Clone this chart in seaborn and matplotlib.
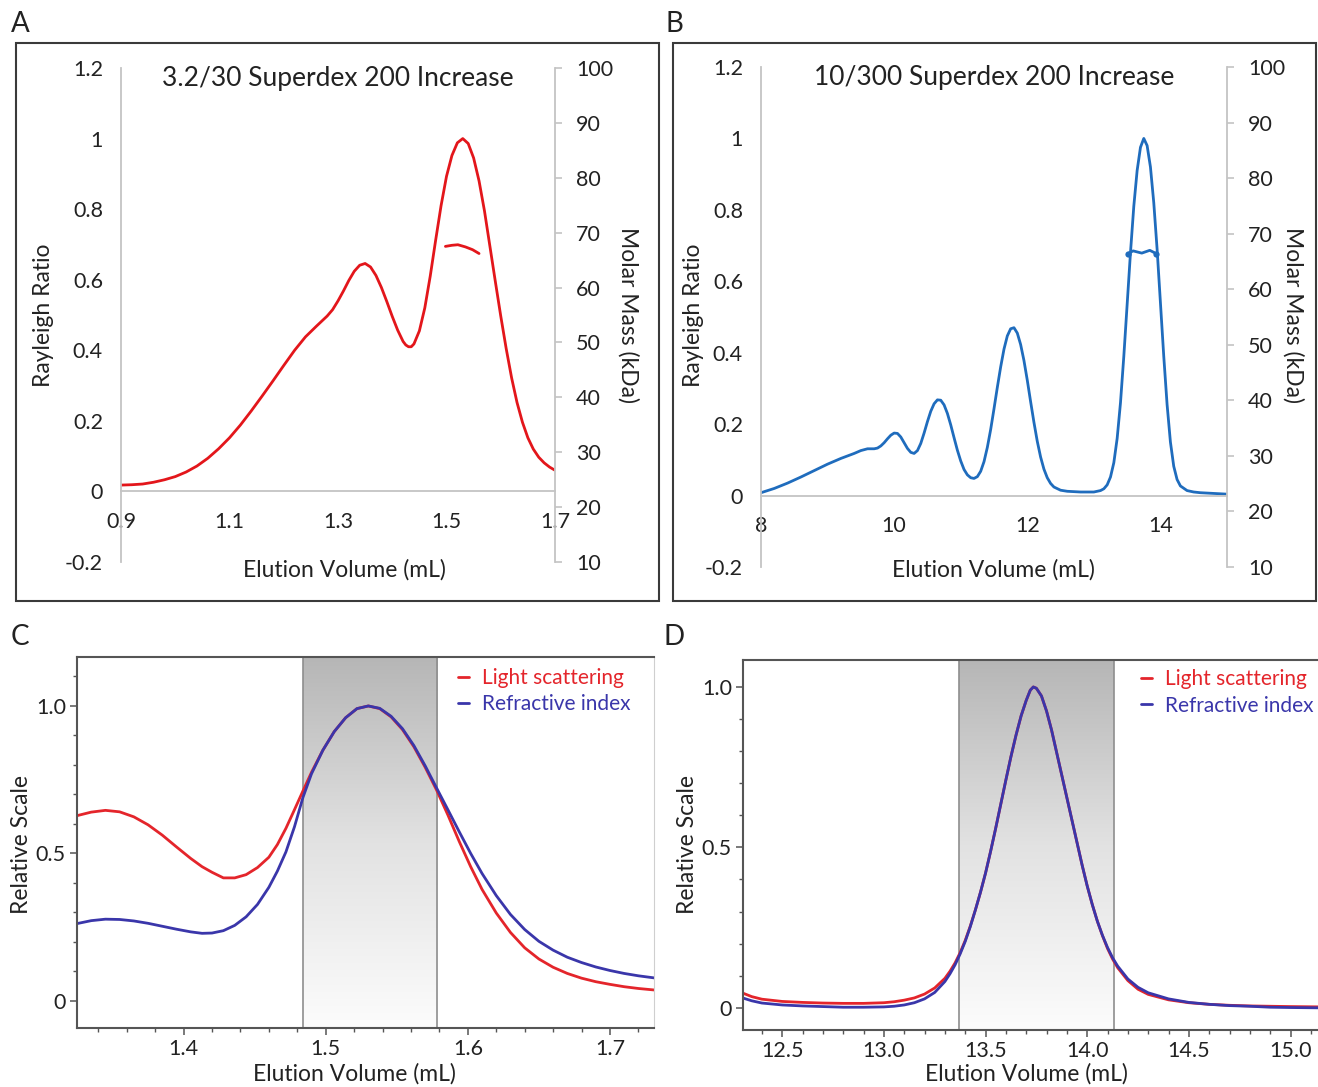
import numpy as np
import matplotlib
matplotlib.use("Agg")
import matplotlib.pyplot as plt
import seaborn as sns
from matplotlib.patches import Rectangle
from matplotlib.ticker import MultipleLocator
from matplotlib.colors import LinearSegmentedColormap

# ---- panel A: 3.2/30 Superdex 200 Increase (Rayleigh ratio + molar mass)
a_vol = [0.90, 0.92, 0.94, 0.96, 0.98, 1.00, 1.02, 1.04, 1.06, 1.08, 1.10, 1.12,
         1.14, 1.16, 1.18, 1.20, 1.22, 1.24, 1.26, 1.28, 1.29, 1.30, 1.31, 1.32,
         1.33, 1.34, 1.35, 1.36, 1.37, 1.38, 1.39, 1.40, 1.41, 1.42, 1.425, 1.43,
         1.435, 1.44, 1.45, 1.46, 1.47, 1.48, 1.49, 1.50, 1.51, 1.52, 1.53, 1.54,
         1.55, 1.56, 1.57, 1.58, 1.59, 1.60, 1.61, 1.62, 1.63, 1.64, 1.65, 1.66,
         1.67, 1.68, 1.69, 1.70]
a_rr = [0.018, 0.019, 0.021, 0.026, 0.033, 0.042, 0.055, 0.072, 0.094, 0.121,
        0.152, 0.188, 0.228, 0.270, 0.313, 0.357, 0.400, 0.438, 0.468, 0.497,
        0.515, 0.540, 0.568, 0.598, 0.624, 0.641, 0.646, 0.636, 0.612, 0.578,
        0.538, 0.496, 0.457, 0.425, 0.415, 0.410, 0.410, 0.418, 0.455, 0.520,
        0.610, 0.712, 0.810, 0.893, 0.952, 0.988, 1.000, 0.986, 0.945, 0.880,
        0.795, 0.695, 0.595, 0.497, 0.405, 0.322, 0.252, 0.196, 0.152, 0.120,
        0.097, 0.081, 0.069, 0.060]
a_mm_vol = [1.498, 1.510, 1.521, 1.535, 1.548, 1.560]
a_mm_kda = [67.5, 67.7, 67.8, 67.4, 66.9, 66.2]

# ---- panel B: 10/300 Superdex 200 Increase
b_vol = [8.0, 8.2, 8.4, 8.6, 8.8, 9.0, 9.2, 9.4, 9.5, 9.6, 9.7, 9.75, 9.8, 9.85,
         9.9, 9.95, 10.0, 10.05, 10.1, 10.15, 10.2, 10.25, 10.3, 10.35, 10.4,
         10.45, 10.5, 10.55, 10.6, 10.65, 10.7, 10.75, 10.8, 10.85, 10.9, 10.95,
         11.0, 11.05, 11.1, 11.15, 11.2, 11.25, 11.3, 11.35, 11.4, 11.45, 11.5,
         11.55, 11.6, 11.65, 11.7, 11.75, 11.8, 11.85, 11.9, 11.95, 12.0, 12.05,
         12.1, 12.15, 12.2, 12.25, 12.3, 12.35, 12.4, 12.5, 12.6, 12.8, 13.0,
         13.1, 13.15, 13.2, 13.25, 13.3, 13.35, 13.4, 13.45, 13.5, 13.55, 13.6,
         13.65, 13.7, 13.75, 13.8, 13.85, 13.9, 13.95, 14.0, 14.05, 14.1, 14.15,
         14.2, 14.25, 14.3, 14.4, 14.5, 14.6, 14.8, 15.0]
b_rr = [0.008, 0.020, 0.035, 0.052, 0.070, 0.088, 0.104, 0.118, 0.126, 0.131,
        0.131, 0.133, 0.139, 0.148, 0.159, 0.169, 0.175, 0.174, 0.164, 0.148,
        0.132, 0.121, 0.118, 0.126, 0.146, 0.175, 0.207, 0.236, 0.257, 0.268,
        0.267, 0.254, 0.230, 0.198, 0.162, 0.127, 0.097, 0.073, 0.058, 0.050,
        0.048, 0.053, 0.068, 0.095, 0.135, 0.185, 0.243, 0.303, 0.360, 0.410,
        0.447, 0.467, 0.470, 0.455, 0.423, 0.378, 0.323, 0.263, 0.205, 0.152,
        0.108, 0.074, 0.050, 0.034, 0.024, 0.015, 0.012, 0.010, 0.010, 0.014,
        0.019, 0.030, 0.052, 0.092, 0.160, 0.260, 0.390, 0.535, 0.680, 0.810,
        0.910, 0.975, 1.000, 0.980, 0.920, 0.820, 0.690, 0.540, 0.390, 0.255,
        0.150, 0.082, 0.045, 0.027, 0.014, 0.010, 0.008, 0.006, 0.004]
b_mm_vol = [13.51, 13.59, 13.72, 13.84, 13.94]
b_mm_kda = [66.4, 66.9, 66.5, 67.0, 66.4]

# ---- panel C: 3.2/30 light scattering vs refractive index
c_vol = [1.325, 1.335, 1.345, 1.355, 1.365, 1.375, 1.385, 1.395, 1.405, 1.413,
         1.420, 1.428, 1.436, 1.444, 1.452, 1.460, 1.466, 1.472, 1.478, 1.484,
         1.490, 1.498, 1.506, 1.514, 1.522, 1.530, 1.538, 1.546, 1.554, 1.562,
         1.570, 1.578, 1.586, 1.594, 1.602, 1.610, 1.620, 1.630, 1.640, 1.650,
         1.660, 1.670, 1.680, 1.690, 1.700, 1.710, 1.720, 1.731]
c_ls = [0.628, 0.640, 0.646, 0.641, 0.624, 0.597, 0.562, 0.522, 0.483, 0.455,
        0.436, 0.417, 0.417, 0.428, 0.452, 0.487, 0.530, 0.585, 0.648, 0.712,
        0.775, 0.850, 0.913, 0.960, 0.991, 1.000, 0.991, 0.963, 0.920, 0.862,
        0.792, 0.715, 0.630, 0.540, 0.455, 0.378, 0.298, 0.232, 0.180, 0.142,
        0.114, 0.093, 0.077, 0.065, 0.056, 0.048, 0.042, 0.037]
c_ri = [0.262, 0.272, 0.277, 0.276, 0.271, 0.263, 0.253, 0.243, 0.234, 0.229,
        0.230, 0.238, 0.256, 0.285, 0.327, 0.385, 0.440, 0.505, 0.590, 0.690,
        0.770, 0.850, 0.913, 0.960, 0.991, 1.000, 0.992, 0.965, 0.923, 0.866,
        0.797, 0.722, 0.648, 0.573, 0.500, 0.432, 0.357, 0.293, 0.242, 0.202,
        0.172, 0.148, 0.130, 0.115, 0.103, 0.093, 0.085, 0.078]
c_band = [1.484, 1.5785]

# ---- panel D: 10/300 light scattering vs refractive index
d_vol = [12.31, 12.35, 12.40, 12.50, 12.60, 12.70, 12.80, 12.90, 13.00, 13.05,
         13.10, 13.15, 13.20, 13.25, 13.30, 13.325, 13.35, 13.375, 13.40, 13.425,
         13.45, 13.475, 13.50, 13.525, 13.55, 13.575, 13.60, 13.625, 13.65, 13.675,
         13.70, 13.72, 13.735, 13.75, 13.775, 13.80, 13.825, 13.85, 13.875, 13.90,
         13.925, 13.95, 13.975, 14.00, 14.025, 14.05, 14.075, 14.10, 14.125, 14.15,
         14.20, 14.25, 14.30, 14.40, 14.50, 14.60, 14.70, 14.80, 14.90, 15.00, 15.15]
d_ls = [0.045, 0.035, 0.027, 0.020, 0.017, 0.015, 0.014, 0.014, 0.016, 0.019,
        0.024, 0.031, 0.043, 0.062, 0.092, 0.114, 0.140, 0.172, 0.210, 0.255,
        0.305, 0.360, 0.420, 0.488, 0.560, 0.635, 0.710, 0.783, 0.850, 0.910,
        0.958, 0.990, 1.000, 0.996, 0.972, 0.925, 0.865, 0.795, 0.725, 0.655,
        0.585, 0.515, 0.445, 0.380, 0.322, 0.270, 0.225, 0.185, 0.152, 0.125,
        0.085, 0.058, 0.042, 0.025, 0.016, 0.011, 0.008, 0.006, 0.005, 0.004, 0.003]
d_ri = [0.030, 0.022, 0.015, 0.009, 0.006, 0.004, 0.002, 0.002, 0.003, 0.005,
        0.009, 0.016, 0.028, 0.048, 0.082, 0.106, 0.134, 0.168, 0.207, 0.253,
        0.305, 0.360, 0.420, 0.488, 0.560, 0.635, 0.710, 0.783, 0.850, 0.910,
        0.958, 0.990, 1.000, 0.996, 0.972, 0.925, 0.865, 0.795, 0.725, 0.655,
        0.585, 0.515, 0.445, 0.380, 0.322, 0.270, 0.226, 0.188, 0.156, 0.130,
        0.090, 0.064, 0.047, 0.028, 0.017, 0.011, 0.007, 0.005, 0.002, 0.001, 0.000]
d_band = [13.37, 14.13]

rr_ticks = [-0.2, 0, 0.2, 0.4, 0.6, 0.8, 1.0, 1.2]
rr_labels = ["-0.2", "0", "0.2", "0.4", "0.6", "0.8", "1", "1.2"]
mm_ticks = [10, 20, 30, 40, 50, 60, 70, 80, 90, 100]
a_xticks = [0.9, 1.1, 1.3, 1.5, 1.7]
a_xlabels = ["0.9", "1.1", "1.3", "1.5", "1.7"]
b_xticks = [8, 10, 12, 14]
b_xlabels = ["8", "10", "12", "14"]
c_xticks = [1.4, 1.5, 1.6, 1.7]
c_xlabels = ["1.4", "1.5", "1.6", "1.7"]
d_xticks = [12.5, 13.0, 13.5, 14.0, 14.5, 15.0]
d_xlabels = ["12.5", "13.0", "13.5", "14.0", "14.5", "15.0"]
rs_ticks = [0, 0.5, 1.0]
rs_labels = ["0", "0.5", "1.0"]

RED = "#e3161b"
BLUE_B = "#1f6cbd"
RED_CD = "#e4252b"
BLUE_CD = "#3a36aa"
TXT = "#222222"

sns.set_style("white")
plt.rcParams["font.family"] = ["Lato", "DejaVu Sans"]

W, H = 1318, 1087
fig = plt.figure(figsize=(W / 100, H / 100), dpi=100)


def fx(px):
    return px / W


def fy(py):
    return 1 - py / H


def box(x0, y0, x1, y1):
    return [fx(x0), fy(y1), (x1 - x0) / W, (y1 - y0) / H]


def chrom_panel(rect, vol, rr, mm_vol, mm_kda, color, xlim, xticks, xlabels,
                title, label_x, markers):
    ax = fig.add_axes(rect)
    sns.lineplot(x=vol, y=rr, ax=ax, color=color, lw=2.0)
    ax.set_xlim(xlim)
    ax.set_ylim(-0.2, 1.2)
    ax.set_xticks(xticks, xlabels)
    ax.set_yticks(rr_ticks, rr_labels)
    for s in ["top", "right"]:
        ax.spines[s].set_visible(False)
    ax.spines["left"].set_color("#c4c4c4")
    ax.spines["left"].set_linewidth(1.3)
    ax.spines["bottom"].set_position(("data", 0))
    ax.spines["bottom"].set_color("#c4c4c4")
    ax.spines["bottom"].set_linewidth(1.3)
    ax.tick_params(axis="y", length=0, pad=13, labelsize=15.5, labelcolor=TXT)
    ax.tick_params(axis="x", length=0, pad=15, labelsize=15.5, labelcolor=TXT)
    ax.text(0.5, 0.978, title, transform=ax.transAxes, ha="center", va="center",
            fontsize=19, color=TXT)

    ax2 = ax.twinx()
    sns.lineplot(x=mm_vol, y=mm_kda, ax=ax2, color=color, lw=2.0,
                 marker="o" if markers else None, markersize=4.5,
                 markeredgewidth=0, markevery=[0, len(mm_vol) - 1] if markers else None)
    ax2.set_ylim(10, 100)
    ax2.set_yticks(mm_ticks, [str(t) for t in mm_ticks])
    for s in ["top", "left", "bottom"]:
        ax2.spines[s].set_visible(False)
    ax2.spines["right"].set_color("#c4c4c4")
    ax2.spines["right"].set_linewidth(1.3)
    ax2.tick_params(axis="y", length=5, width=1.2, color="#c4c4c4", pad=10,
                    labelsize=15.5, labelcolor=TXT)
    ax2.set_xlim(xlim)

    left_x, right_x, mid_x = label_x
    fig.text(fx(left_x), fy(315), "Rayleigh Ratio", rotation=90,
             ha="center", va="center", fontsize=16.5, color=TXT)
    fig.text(fx(right_x), fy(315), "Molar Mass (kDa)", rotation=-90,
             ha="center", va="center", fontsize=16.5, color=TXT)
    fig.text(fx(mid_x), fy(570), "Elution Volume (mL)", ha="center", va="center",
             fontsize=16.5, color=TXT)


def overlay_panel(rect, vol, ls, ri, band, xlim, ylim, xticks, xlabels,
                  xminor, leg_anchor, right_color):
    ax = fig.add_axes(rect)
    sns.lineplot(x=vol, y=ls, ax=ax, color=RED_CD, lw=2.0, label="Light scattering")
    sns.lineplot(x=vol, y=ri, ax=ax, color=BLUE_CD, lw=2.0, label="Refractive index")
    grad = np.linspace(0, 1, 256).reshape(-1, 1)
    cmap = LinearSegmentedColormap.from_list(
        "band", [(0, "#b6b6b6"), (0.5, "#e2e2e2"), (1, "#fcfcfc")])
    ax.imshow(grad, extent=[band[0], band[1], ylim[0], ylim[1]], aspect="auto",
              cmap=cmap, zorder=0)
    for b in band:
        ax.axvline(b, color="#8e8e8e", lw=1.2, zorder=1)
    ax.set_xlim(xlim)
    ax.set_ylim(ylim)
    ax.set_xticks(xticks, xlabels)
    ax.set_yticks(rs_ticks, rs_labels)
    ax.xaxis.set_minor_locator(MultipleLocator(xminor))
    ax.yaxis.set_minor_locator(MultipleLocator(0.1))
    for s in ["left", "bottom", "top"]:
        ax.spines[s].set_color("#555555")
        ax.spines[s].set_linewidth(1.5)
    ax.spines["right"].set_color(right_color)
    ax.tick_params(which="major", direction="out", length=5, width=1.1,
                   color="#555555", labelsize=15.5, labelcolor=TXT, pad=3,
                   bottom=True, left=True)
    ax.tick_params(which="minor", direction="out", length=3, width=1,
                   color="#555555", bottom=True, left=True)
    ax.legend(loc="upper left", bbox_to_anchor=leg_anchor, frameon=False,
              handlelength=0.55, handletextpad=0.6, labelspacing=0.3,
              borderpad=0, borderaxespad=0, fontsize=15, labelcolor="linecolor")
    ax.set_xlabel("")
    return ax


chrom_panel(box(121, 68, 555, 562), a_vol, a_rr, a_mm_vol, a_mm_kda, RED,
            (0.9, 1.7), a_xticks, a_xlabels, "3.2/30 Superdex 200 Increase",
            (43, 628, 344), False)
chrom_panel(box(761, 67, 1227, 567), b_vol, b_rr, b_mm_vol, b_mm_kda, BLUE_B,
            (8, 15), b_xticks, b_xlabels, "10/300 Superdex 200 Increase",
            (693, 1293, 993), True)

overlay_panel(box(77, 657, 654, 1028), c_vol, c_ls, c_ri, c_band, (1.325, 1.731),
              (-0.092, 1.166), c_xticks, c_xlabels, 0.02, (0.66, 0.97), "#cfcfcf")
overlay_panel(box(743, 660, 1321, 1030), d_vol, d_ls, d_ri, d_band, (12.307, 15.15),
              (-0.069, 1.084), d_xticks, d_xlabels, 0.1, (0.688, 0.975), "#555555")

for x in [22, 688]:
    fig.text(fx(x), fy(845), "Relative Scale", rotation=90, ha="center",
             va="center", fontsize=16.5, color=TXT)
for x in [354, 1026]:
    fig.text(fx(x), fy(1074), "Elution Volume (mL)", ha="center", va="center",
             fontsize=16.5, color=TXT)

for x0 in [16, 673]:
    fig.add_artist(Rectangle((fx(x0), fy(601)), 643 / W, (601 - 43) / H,
                             transform=fig.transFigure, fill=False,
                             edgecolor="#3a3a3a", lw=1.5))

for lbl, x, y in [("A", 20, 24), ("B", 674, 24), ("C", 20, 637), ("D", 674, 637)]:
    fig.text(fx(x), fy(y), lbl, ha="center", va="center", fontsize=20, color=TXT)

fig.savefig("out.png", dpi=100)
